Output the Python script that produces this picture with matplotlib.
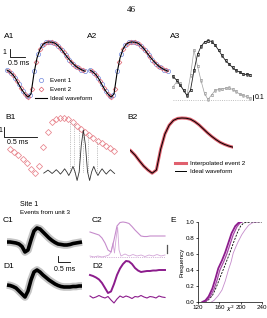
import numpy as np
import matplotlib
matplotlib.use('Agg')
import matplotlib.pyplot as plt
from matplotlib.lines import Line2D

plt.rcParams['font.family'] = ['Liberation Sans', 'DejaVu Sans']

W, H = 267, 318

# ---- A: ideal waveform and two sampled events (ms, arbitrary units)
t_ideal = np.arange(27) * 0.1
ideal = [0, -0.25, -0.6, -1.15, -1.85, -2.5, -3.0, -3.4, -3.0, -0.4, 1.5, 2.6, 3.2, 3.45,
         3.5, 3.47, 3.35, 3.05, 2.65, 2.15, 1.65, 1.2, 0.8, 0.45, 0.2, 0.0, -0.15]
t_ev1 = np.arange(21) * 0.13
event1 = [0, -0.35, -0.95, -1.8, -2.6, -3.25, -3.1, -0.1, 2.0, 3.1, 3.45, 3.5, 3.42, 3.05,
          2.55, 1.9, 1.3, 0.8, 0.35, 0.05, -0.15]
t_ev2 = np.arange(20) * 0.13 + 0.065
event2 = [-0.15, -0.65, -1.35, -2.2, -2.95, -3.4, -2.4, 1.0, 2.6, 3.3, 3.5, 3.48, 3.25, 2.8,
          2.25, 1.6, 1.05, 0.55, 0.2, -0.05]

# A3: two error-bar curves
a3_black = [0.47, 0.40, 0.30, 0.20, 0.09, 0.20, 0.59, 0.91, 1.07, 1.16, 1.19, 1.17, 1.10, 1.0,
            0.89, 0.79, 0.72, 0.65, 0.59, 0.56, 0.52, 0.51, 0.50]
a3_gray = [0.26, 0.36, 0.33, 0.19, 0.09, 0.49, 1.0, 0.68, 0.39, 0.13, 0.01, 0.10, 0.19, 0.21,
           0.22, 0.235, 0.245, 0.21, 0.17, 0.12, 0.09, 0.07, 0.03]

# B1: upsampled event 2 and sinc kernel
b1_diamonds = [2.57, 2.33, 2.0, 1.6, 1.17, 0.6, 0.17, 0.93, 2.77, 4.33, 5.27, 5.6, 5.73, 5.73,
               5.6, 5.33, 4.93, 4.6, 4.27, 4.0, 3.67, 3.4, 3.17, 2.93, 2.67, 2.4]
kernel_u = np.arange(-19, 16) * 0.5
kernel = [0.19, 0.33, 0.49, 0.33, 0.15, 0.33, 0.53, 0.33, 0.09, 0.33, 0.62, 0.33, -0.05, 0.33,
          0.86, 0.33, -0.55, 0.33, 2.98, 4.50, 2.98, 0.33, -0.55, 0.33, 0.86, 0.33, -0.05, 0.33,
          0.62, 0.33, 0.09, 0.33, 0.53, 0.33, 0.15]
kernel_center = 17.6
dotted_k = [14.4, 15.4, 16.6, 17.4, 18.6, 20.8]
dotted_top = [5.55, 5.2, 4.75, 4.5, 4.1, 3.45]

# C/D: unit 3 events (0.125 ms steps)
c1 = [0, 0, -0.12, -0.25, -0.5, -1.12, -2.5, -2.0, 0.5, 2.75, 3.5, 3.25, 2.5, 1.75, 1.0, 0.38,
      -0.12, -0.5, -0.62, -0.75, -0.75, -0.62, -0.38, -0.25, -0.12, 0]
d1 = [0, -0.12, -0.38, -0.75, -1.5, -2.25, -3.0, -1.5, 1.25, 3.25, 3.75, 3.25, 2.5, 1.88, 1.25,
      0.75, 0.25, -0.12, -0.38, -0.5, -0.5, -0.5, -0.38, -0.38, -0.25, -0.25]
c2_wave = [6.25, 6.0, 5.75, 5.5, 4.75, 3.5, 1.75, 1.25, 4.25, 7.75, 8.62, 8.75, 8.62, 8.38, 7.62,
           6.75, 6.0, 5.25, 5.12, 5.12, 5.25, 5.25, 5.25, 5.25, 5.25, 5.25]
c2_res_t = [0, 0.17, 0.33, 0.5, 0.67, 0.79, 0.88, 0.96, 1.02, 1.08, 1.15, 1.21, 1.29, 1.46, 1.63,
            1.79, 1.96, 2.13, 2.29, 2.46, 2.63, 2.79, 2.96, 3.125]
c2_res = [0.25, 0, 0.25, 0, 0.25, 0.5, 1.25, 3.5, 1.0, 4.25, 7.5, 1.75, 0.25, 0.75, 0.25, 0.62,
          0.25, 0.5, 0.12, 0.5, 0.25, 0.62, 0.25, 0.5]
d2_wave = [5.5, 5.25, 4.88, 4.38, 3.5, 2.25, 1.0, 1.38, 3.25, 5.5, 7.12, 8.25, 9.0, 8.88, 8.25,
           7.25, 6.62, 6.25, 6.38, 6.5, 6.5, 6.62, 6.62, 6.75, 6.75, 6.75]
d2_res = [0.25, -0.25, 0, 0.38, 0, -0.25, 0.12, -0.75, -1.5, -0.5, 0.25, -0.12, 0.25, 0, -0.38,
          0.12, 0, 0.38, 0, -0.25, 0.12, 0, -0.25, 0.25, 0, -0.12]
t_cd = np.arange(26) * 0.125

# E: cumulative chi-square distributions
e_dark_x = [128, 134, 140, 147, 153, 158, 165, 171, 177, 183, 190, 196, 200]
e_dark_y = [0, 0.02, 0.07, 0.17, 0.30, 0.42, 0.52, 0.62, 0.74, 0.86, 0.95, 0.99, 1.0]
e_mid_x = [131, 137, 143, 150, 156, 161, 168, 174, 180, 186, 193, 199, 203]
e_mid_y = [0, 0.02, 0.07, 0.16, 0.28, 0.40, 0.50, 0.60, 0.72, 0.84, 0.94, 0.99, 1.0]
e_dash_x = [133, 140, 147, 154, 161, 167, 173, 180, 187, 194, 200, 206, 220, 240]
e_dash_y = [0, 0.03, 0.08, 0.18, 0.30, 0.40, 0.50, 0.62, 0.75, 0.87, 0.95, 0.99, 1.0, 1.0]
e_light_x = [145, 150, 158, 165, 171, 177, 182, 186, 191, 195, 202, 208, 215, 222, 232, 236]
e_light_y = [0, 0.02, 0.08, 0.15, 0.26, 0.40, 0.50, 0.61, 0.69, 0.75, 0.84, 0.90, 0.96, 0.99,
             1.0, 1.0]

BLUE = '#6f86dc'
RED = '#e0606e'
PINK = '#e8848c'
LPURP = '#c68ccc'
DPURP = '#8c1c8c'
MPURP = '#a848a8'
FS = 4.5

fig = plt.figure(figsize=(W / 100, H / 100), dpi=100)


def panel(x0, y0, x1, y1, off=True):
    ax = fig.add_axes([x0 / W, 1 - y1 / H, (x1 - x0) / W, (y1 - y0) / H])
    if off:
        ax.axis('off')
    return ax


def label(x, y, s, size=6, **kw):
    fig.text(x / W, 1 - y / H, s, fontsize=size, va='center', **kw)


label(131, 10, '46', size=6.5, ha='center', family='Liberation Serif')

# A1 / A2
for x0, name in [(7, 'A1'), (90, 'A2')]:
    label(x0 - 3, 37, name)
    ax = panel(x0, 38, x0 + 78, 102)
    ax.set_xlim(0, 2.6)
    ax.set_ylim(-4, 4)
    ax.plot(t_ev1, event1, 'o', mfc='none', mec=BLUE, ms=3, mew=0.5, clip_on=False)
    ax.plot(t_ev2, event2, 'D', mfc='none', mec=RED, ms=2.4, mew=0.5, clip_on=False)
    ax.plot(t_ideal, ideal, color='k', lw=0.8, clip_on=False)
    if name == 'A1':
        ax.plot([0.1, 0.1, 0.6], [2.6, 1.6, 1.6], color='k', lw=0.6, clip_on=False)
        ax.text(-0.01, 2.2, '1', fontsize=FS + 0.5, ha='right', va='center')
        ax.text(0.38, 1.3, '0.5 ms', fontsize=FS + 0.5, ha='center', va='top')

handles = [Line2D([], [], ls='none', marker='o', mfc='none', mec=BLUE, ms=3, mew=0.5),
           Line2D([], [], ls='none', marker='D', mfc='none', mec=RED, ms=2.4, mew=0.5),
           Line2D([], [], color='k', lw=0.8)]
fig.legend(handles, ['Event 1', 'Event 2', 'Ideal waveform'], loc='upper left',
           bbox_to_anchor=(35 / W, 1 - 78 / H), frameon=False, fontsize=FS,
           handlelength=1.9, handletextpad=0.5, borderpad=0, borderaxespad=0,
           labelspacing=0.55, numpoints=1)

# A3
label(170, 37, 'A3')
ax = panel(173, 38, 250, 102)
ax.set_xlim(0, 22)
ax.set_ylim(-0.04, 1.24)
k3 = np.arange(len(a3_black))
ax.plot([0, 22], [0, 0], ls=':', color='#aaaaaa', lw=0.6)
ax.errorbar(k3, a3_gray, yerr=0.025, fmt='-s', color='#a0a0a0', mfc='none', ms=2.1, mew=0.45,
            lw=0.5, elinewidth=0.3, capsize=0.6, capthick=0.3, clip_on=False)
ax.errorbar(k3, a3_black, yerr=0.025, fmt='-s', color='#222222', mfc='none', ms=2.1, mew=0.45,
            lw=0.6, elinewidth=0.3, capsize=0.6, capthick=0.3, clip_on=False)
ax.plot([22.8, 22.8], [0, 0.1], color='k', lw=0.6, clip_on=False)
ax.text(23.4, 0.05, '0.1', fontsize=FS + 0.5, va='center')

# B1
label(5, 118, 'B1')
ax = panel(10, 115, 114.2, 180)
ax.set_xlim(0, 25)
ax.set_ylim(-0.5, 6)
ax.plot(np.arange(len(b1_diamonds)), b1_diamonds, 'D', mfc='none', mec=PINK, ms=3.1, mew=0.55,
        clip_on=False)
ax.vlines(dotted_k, 0.33, dotted_top, colors='#8a8a8a', linestyles=':', lw=0.5)
ax.plot(kernel_center + kernel_u, kernel, color='#333333', lw=0.6, clip_on=False)
ax.plot([-1.44, -1.44, 6.48], [4.8, 3.8, 3.8], color='k', lw=0.6, clip_on=False)
ax.text(-1.8, 4.4, '1', fontsize=FS + 0.5, ha='right', va='center')
ax.text(1.9, 3.55, '0.5 ms', fontsize=FS + 0.5, ha='center', va='top')

# B2
label(127, 118, 'B2')
ax = panel(130, 110, 233, 180)
ax.set_xlim(0.18, 2.6)
ax.set_ylim(-4.25, 4.5)
ax.plot(t_ideal, ideal, color=RED, lw=2.2)
ax.plot(t_ideal, ideal, color='k', lw=0.7)
handles = [Line2D([], [], color=RED, lw=2.2), Line2D([], [], color='k', lw=0.7)]
fig.legend(handles, ['Interpolated event 2', 'Ideal waveform'], loc='upper left',
           bbox_to_anchor=(175 / W, 1 - 161 / H), frameon=False, fontsize=FS,
           handlelength=1.8, handletextpad=0.6, borderpad=0, borderaxespad=0,
           labelspacing=0.35)

# C / D
label(20, 205, 'Site 1', size=5)
label(20, 213, 'Events from unit 3', size=FS)
label(3, 221, 'C1')
label(3, 266, 'D1')
label(92, 221, 'C2')
label(92, 266, 'D2')

for y0, trace in [(220, c1), (263, d1)]:
    ax = panel(7, y0, 82, y0 + 42)
    ax.set_xlim(0, 3.125)
    ax.set_ylim(-5, 5.5)
    ax.plot(t_cd, trace, color='#c4c4c4', lw=5.5, solid_capstyle='butt', clip_on=False)
    ax.plot(t_cd, trace, color='k', lw=2.6, solid_capstyle='butt', clip_on=False)
    if trace is c1:
        ax.plot([2.125, 2.125, 2.625], [-3.5, -5.0, -5.0], color='k', lw=0.6, clip_on=False)
        ax.text(2.4, -6.9, '0.5 ms', fontsize=FS + 0.5, ha='center', va='center')

ax = panel(90, 220, 165, 262)
ax.set_xlim(0, 3.125)
ax.set_ylim(-1.25, 9.25)
ax.plot([0, 3.125], [0, 0], ls=':', color='#b070b8', lw=0.5)
ax.plot(c2_res_t, c2_res, color='#d3a6d8', lw=0.6, clip_on=False)
ax.plot(t_cd, c2_wave, color=LPURP, lw=0.8, clip_on=False)
ax.plot([3.21, 3.21], [1, 3], color='#555555', lw=0.9, clip_on=False)

ax = panel(90, 258, 165, 305)
ax.set_xlim(0, 3.125)
ax.set_ylim(-2, 9.75)
ax.plot(t_cd, d2_res, color=DPURP, lw=0.8, clip_on=False)
ax.plot(t_cd, d2_wave, color=DPURP, lw=1.4, clip_on=False)

# E
label(170, 221, 'E')
ax = panel(198, 222, 262, 302, off=False)
ax.plot(e_light_x, e_light_y, color=LPURP, lw=0.6)
ax.plot(e_dash_x, e_dash_y, color='k', lw=0.6, ls=(0, (2.5, 1.5)))
ax.plot(e_mid_x, e_mid_y, color=MPURP, lw=0.9)
ax.plot(e_dark_x, e_dark_y, color=DPURP, lw=1.3)
ax.set_xlim(120, 240)
ax.set_ylim(0, 1)
ax.set_xticks([120, 160, 200, 240])
ax.set_yticks([0, 0.2, 0.4, 0.6, 0.8, 1.0])
ax.set_yticklabels(['0.0', '0.2', '0.4', '0.6', '0.8', '1.0'])
for s in ['top', 'right']:
    ax.spines[s].set_visible(False)
for s in ['left', 'bottom']:
    ax.spines[s].set_linewidth(0.5)
ax.tick_params(labelsize=FS, length=1.5, width=0.5, pad=1)
ax.set_ylabel('Frequency', fontsize=FS, labelpad=1)
ax.text(181, -0.085, r'$\chi^2$', fontsize=FS, ha='center', va='center', clip_on=False)

fig.savefig('out.png', dpi=100)
